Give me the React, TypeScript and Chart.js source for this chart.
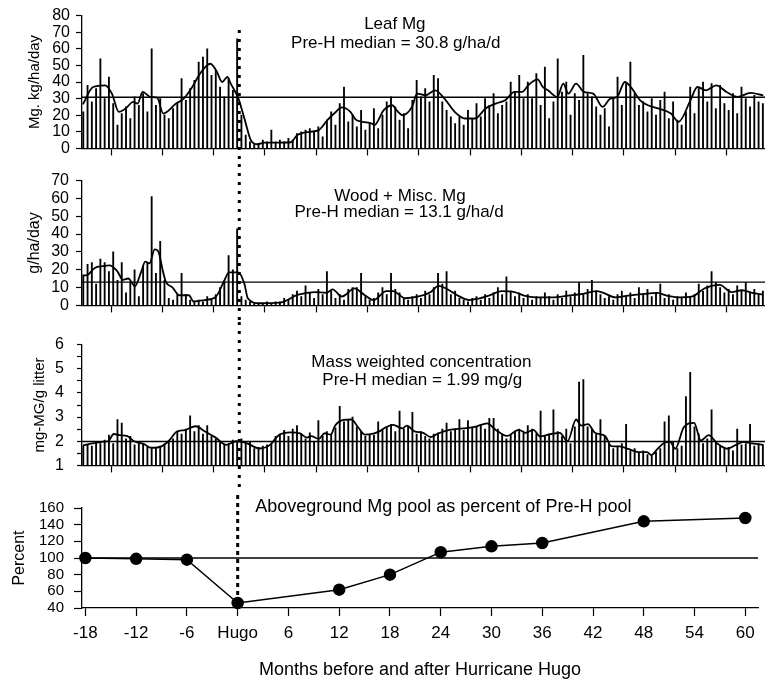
import React, { useEffect, useRef } from 'react';
import { Chart, registerables } from 'chart.js';

Chart.register(...registerables);

const FONT = "'Liberation Sans', Arial, Helvetica, sans-serif";
Chart.defaults.font.family = FONT;
Chart.defaults.color = '#000';

// ---------- shared time axis ----------
const monthTicks = [-18, -12, -6, 0, 6, 12, 18, 24, 30, 36, 42, 48, 54, 60];
const X_MIN = -18.4;
const X_MAX = 61.5;
const HUGO_MONTH = 0;
const FIRST_SAMPLE_MONTH = -18.25;
const SAMPLE_STEP = 0.5;

// ---------- Panel 1: Leaf Mg (g/ha/day) ----------
const LEAF_MEDIAN = 30.8;
const leafBars = [
  22, 38, 28, 36, 54, 30, 43, 27, 14, 21,
  25, 18, 31, 26, 33, 22, 60, 26, 30, 20,
  18, 24, 27, 42, 29, 36, 41, 52, 55, 60,
  44, 47, 37, 31, 42, 35, 66, 20, 8, 4,
  3, 3, 5, 4, 11, 4, 5, 4, 6, 5,
  9, 10, 11, 12, 10, 13, 7, 17, 22, 14,
  27, 37, 16, 20, 13, 23, 11, 15, 24, 12,
  20, 28, 31, 25, 17, 21, 12, 29, 41, 31,
  36, 28, 44, 42, 28, 23, 19, 15, 19, 14,
  23, 18, 27, 19, 30, 26, 33, 21, 26, 28,
  40, 34, 44, 30, 40, 30, 45, 26, 49, 18,
  28, 54, 34, 40, 20, 33, 29, 56, 33, 31,
  25, 20, 24, 13, 30, 43, 26, 39, 52, 33,
  26, 28, 22, 30, 20, 29, 34, 18, 28, 17,
  14, 22, 37, 21, 36, 40, 28, 39, 24, 38,
  27, 23, 33, 21, 37, 30, 25, 32, 28, 27,
];
const leafSmooth = [
  [-18.3, 26.5], [-17.1, 37], [-15.7, 38], [-14.9, 33], [-14.1, 22], [-13.3, 24],
  [-12.4, 28], [-11.9, 27], [-11.3, 34], [-10.4, 31], [-9.6, 30.5], [-8.9, 21],
  [-7.4, 27], [-6.5, 30], [-5.5, 37], [-4.6, 45], [-3.4, 51], [-2.7, 47],
  [-2.0, 40], [-1.4, 43], [-1.0, 39], [-0.1, 30], [0.6, 18], [1.35, 5],
  [2.1, 2.5], [3.0, 3.5], [4.5, 3.5], [6.0, 3.7], [6.8, 8], [8.2, 10], [9.3, 11],
  [10.3, 17], [11.1, 21], [12.0, 24.7], [13.0, 22], [13.6, 17.5], [14.4, 16],
  [15.5, 15], [15.8, 14], [16.9, 23], [17.9, 26], [18.4, 23], [19.1, 20],
  [20.2, 25], [20.8, 33], [21.8, 32], [22.9, 35], [24.0, 30], [25.2, 22],
  [26.4, 18], [27.6, 18], [28.8, 24], [30.0, 27], [31.1, 29], [32.2, 34],
  [33.1, 34], [33.8, 38], [34.9, 41.6], [35.5, 37], [36.1, 35], [37.2, 31],
  [37.9, 39], [38.5, 33], [39.4, 39], [40.3, 34], [41.4, 33], [42.5, 25],
  [43.4, 30], [44.2, 31], [45.1, 40], [45.8, 37], [46.9, 29], [47.8, 26],
  [49.1, 24], [50.5, 21], [51.4, 16], [52.7, 28], [53.6, 37], [54.6, 35],
  [55.8, 38], [57.0, 34], [58.3, 31], [59.8, 33.5], [61.3, 32],
];

// ---------- Panel 2: Wood + Misc. Mg (g/ha/day) ----------
const WOOD_MEDIAN = 13.1;
const woodBars = [
  17, 23, 24, 12, 26, 24, 19, 30, 14, 24,
  7, 13, 20, 5, 22, 24, 61, 18, 36, 14,
  4, 3, 6, 18, 6, 3, 2, 3, 2, 5,
  4, 6, 10, 14, 28, 20, 43, 5, 3, 2,
  1, 1, 1, 2, 1, 2, 2, 4, 3, 6,
  8, 5, 11, 7, 4, 9, 6, 19, 8, 4,
  6, 3, 9, 10, 10, 18, 5, 3, 4, 7,
  10, 6, 18, 9, 7, 4, 3, 5, 6, 4,
  8, 6, 10, 18, 12, 19, 6, 8, 4, 3,
  2, 4, 5, 3, 6, 4, 7, 10, 6, 16,
  8, 5, 7, 4, 6, 3, 5, 4, 7, 5,
  3, 6, 4, 8, 5, 7, 13, 6, 9, 14,
  8, 6, 4, 5, 3, 6, 8, 5, 7, 4,
  10, 6, 9, 5, 7, 12, 4, 6, 3, 5,
  4, 7, 5, 6, 12, 8, 11, 19, 13, 10,
  7, 9, 6, 11, 8, 13, 7, 9, 6, 8,
];
const woodSmooth = [
  [-18.3, 16.8], [-17.8, 17], [-16.9, 21], [-16.0, 22], [-15.2, 22.5], [-14.3, 19.4],
  [-13.6, 14.3], [-13.0, 15.1], [-12.2, 10.8], [-11.5, 18.5], [-11.0, 24.5],
  [-10.5, 23.6], [-9.9, 31.4], [-9.5, 30.5], [-8.9, 18.5], [-8.6, 13.4], [-7.8, 10],
  [-7.0, 5.7], [-5.9, 5.7], [-5.35, 2.2], [-4.05, 3], [-2.75, 4.8], [-1.8, 13.4],
  [-1.2, 18.5], [-0.1, 18.5], [0.6, 12], [1.0, 4], [2.3, 1.2], [4.7, 1.5], [6.9, 6],
  [8.8, 7.5], [10.2, 7], [10.9, 9], [12.0, 5], [13.5, 9.5], [14.6, 6], [15.7, 3],
  [17.2, 8], [18.0, 8], [19.4, 4], [21.0, 5], [22.4, 7.5], [23.3, 11], [24.2, 9.5],
  [25.4, 6], [26.9, 3], [28.1, 4], [29.2, 5.5], [30.7, 8], [32.2, 7.5], [33.3, 5.5],
  [34.7, 4.5], [36.6, 4.5], [38.5, 5.5], [40.2, 6.5], [41.8, 8], [42.6, 7], [44.0, 4.5],
  [45.5, 5.5], [47.4, 6.5], [48.9, 7], [50.0, 5.5], [51.5, 4.5], [53.0, 5], [54.4, 9.5],
  [56.2, 11.5], [57.6, 7.5], [58.8, 8.5], [60.0, 7], [61.3, 6],
];

// ---------- Panel 3: mass weighted concentration (mg/g) ----------
const CONC_MEDIAN = 1.99;
const concBars = [
  1.8, 1.85, 1.8, 1.95, 1.9, 2.05, 2.25, 1.9, 2.9, 2.75,
  2.1, 2.2, 1.85, 2.0, 1.9, 1.75, 1.7, 1.75, 1.8, 1.85,
  2.0, 2.1, 2.4, 2.3, 2.5, 3.05, 2.4, 2.65, 2.3, 2.65,
  2.2, 2.1, 1.95, 1.85, 1.9, 2.05, 1.95, 2.1, 1.9, 2.0,
  1.7, 1.75, 1.8, 1.85, 1.9, 2.2, 2.3, 2.45, 2.2, 2.5,
  2.65, 2.3, 2.1, 2.35, 2.0, 2.85, 2.2, 2.4, 2.3, 2.55,
  3.45, 2.8, 2.9, 3.0, 2.6, 2.4, 2.2, 2.3, 2.25, 2.8,
  2.5, 2.6, 2.7, 2.4, 3.25, 2.5, 2.6, 3.2, 2.3, 2.4,
  2.2, 2.1, 2.3, 2.35, 2.5, 2.75, 2.4, 2.5, 2.9, 2.45,
  2.85, 2.55, 2.6, 2.7, 2.5, 2.95, 2.95, 2.5, 2.3, 2.1,
  2.25, 2.4, 2.5, 2.35, 2.65, 2.5, 2.3, 3.25, 2.2, 2.3,
  3.3, 2.4, 2.2, 2.5, 1.9, 2.6, 4.45, 4.55, 2.6, 2.5,
  2.3, 2.9, 2.2, 1.9, 1.7, 1.8, 1.9, 2.7, 1.6, 1.7,
  1.5, 1.6, 1.45, 1.4, 1.55, 1.7, 2.8, 3.05, 2.0, 1.7,
  1.8, 3.85, 4.85, 2.6, 2.3, 1.9, 2.1, 3.3, 2.0, 1.8,
  1.7, 1.75, 1.6, 2.5, 1.85, 1.9, 2.7, 1.8, 1.9, 1.85,
];
const concSmooth = [
  [-18.3, 1.83], [-17.0, 1.92], [-15.9, 1.98], [-15.3, 2.01], [-14.7, 2.3], [-14.0, 2.25],
  [-13.1, 2.21], [-12.3, 2.0], [-11.2, 1.89], [-10.3, 1.73], [-9.1, 1.79], [-8.2, 2.03],
  [-7.3, 2.4], [-6.4, 2.46], [-5.1, 2.62], [-4.0, 2.4], [-2.8, 2.16], [-1.5, 1.85],
  [-0.4, 2.0], [0.7, 1.94], [2.4, 1.7], [3.6, 1.85], [4.6, 2.25], [6.0, 2.37],
  [7.1, 2.33], [7.9, 2.15], [8.4, 2.21], [9.3, 2.1], [10.0, 2.33], [10.7, 2.27],
  [11.2, 2.64], [12.2, 2.88], [13.1, 2.9], [13.9, 2.58], [14.7, 2.27], [15.8, 2.33],
  [16.6, 2.45], [16.9, 2.53], [18.0, 2.68], [19.1, 2.53], [19.6, 2.65], [20.5, 2.41],
  [21.5, 2.35], [22.4, 2.17], [23.2, 2.31], [24.6, 2.47], [26.2, 2.53], [27.8, 2.62],
  [29.0, 2.74], [30.0, 2.47], [31.3, 2.22], [32.7, 2.47], [33.5, 2.35], [34.4, 2.47],
  [35.2, 2.2], [36.4, 2.29], [37.5, 2.35], [38.4, 2.0], [39.4, 2.9], [40.0, 2.65],
  [40.8, 2.71], [41.6, 2.35], [42.8, 2.22], [43.5, 1.8], [44.5, 1.79], [45.6, 1.67],
  [46.7, 1.55], [47.7, 1.55], [48.2, 1.43], [48.9, 1.67], [49.6, 1.91], [50.4, 1.97],
  [51.0, 1.69], [52.0, 2.58], [53.2, 2.76], [54.0, 2.03], [54.9, 2.25], [55.9, 1.91],
  [57.1, 1.69], [58.1, 1.85], [59.0, 1.97], [60.0, 1.91], [61.3, 1.85],
];

// ---------- Panel 4: aboveground pool (% of pre-H) ----------
const POOL_REFERENCE = 100;
const poolMonths = [-18, -12, -6, 0, 12, 18, 24, 30, 36, 48, 60];
const poolPercent = [100, 99, 98, 46, 62, 80, 107, 114, 118, 144, 148];

const sampleMonths = leafBars.map((_, i) => FIRST_SAMPLE_MONTH + i * SAMPLE_STEP);

// ---------- helpers ----------
const Y_AXIS_WIDTH = 82;
const CANVAS_WIDTH = 765;

type TextItem = { text: string; x: number; y: number; size: number; align?: CanvasTextAlign };

function textPlugin(items: TextItem[]) {
  return {
    id: 'panelText',
    afterDraw(chart: any) {
      const { ctx } = chart;
      const xs = chart.scales.x;
      const ys = chart.scales.y;
      ctx.save();
      ctx.fillStyle = '#000';
      ctx.textBaseline = 'middle';
      for (const t of items) {
        ctx.font = `${t.size}px ${FONT}`;
        ctx.textAlign = t.align || 'center';
        ctx.fillText(t.text, xs.getPixelForValue(t.x), ys.getPixelForValue(t.y));
      }
      ctx.restore();
    },
  };
}

function hugoLinePlugin(fromPx: number, dash: number[], toValue?: number) {
  return {
    id: 'hugoLine',
    afterDatasetsDraw(chart: any) {
      const { ctx } = chart;
      const x = chart.scales.x.getPixelForValue(HUGO_MONTH);
      const y1 = toValue === undefined ? chart.height : chart.scales.y.getPixelForValue(toValue);
      ctx.save();
      ctx.beginPath();
      ctx.setLineDash(dash);
      ctx.lineWidth = 3;
      ctx.strokeStyle = '#000';
      ctx.moveTo(x, fromPx);
      ctx.lineTo(x, y1);
      ctx.stroke();
      ctx.restore();
    },
  };
}

function xScale(height: number, tickLength: number, withLabels: boolean) {
  return {
    type: 'linear',
    min: X_MIN,
    max: X_MAX,
    offset: false,
    afterBuildTicks: (s: any) => {
      s.ticks = monthTicks.map((v) => ({ value: v }));
    },
    afterFit: (s: any) => {
      s.height = height;
    },
    grid: {
      display: true,
      drawOnChartArea: false,
      drawTicks: true,
      tickLength,
      color: '#000',
      tickColor: '#000',
      tickWidth: 1.2,
    },
    border: { display: true, color: '#000', width: 1.3 },
    ticks: {
      display: withLabels,
      autoSkip: false,
      maxRotation: 0,
      padding: 7,
      color: '#000',
      font: { size: 17, family: FONT },
      callback: (v: any) => (v === HUGO_MONTH ? 'Hugo' : String(v)),
    },
    title: withLabels
      ? {
          display: true,
          text: 'Months before and after Hurricane Hugo',
          color: '#000',
          font: { size: 18, family: FONT },
          padding: { top: 0, bottom: 5 },
        }
      : { display: false },
  };
}

function yScale(o: {
  min: number; max: number; step: number; pad: number; tickLen: number; fontSize: number;
  title: string; titleSize: number; titlePad: number; integerOnly?: boolean;
}) {
  return {
    type: 'linear',
    min: o.min,
    max: o.max,
    afterFit: (s: any) => {
      s.width = Y_AXIS_WIDTH;
    },
    ticks: {
      stepSize: o.step,
      autoSkip: false,
      padding: o.pad,
      color: '#000',
      font: { size: o.fontSize, family: FONT },
      callback: (v: any) => (o.integerOnly && !Number.isInteger(v) ? '' : String(v)),
    },
    grid: {
      display: true,
      drawOnChartArea: false,
      drawTicks: true,
      tickLength: o.tickLen,
      color: '#000',
      tickWidth: 1.2,
    },
    border: { display: true, color: '#000', width: 1.3 },
    title: {
      display: true,
      text: o.title,
      color: '#000',
      font: { size: o.titleSize, family: FONT },
      padding: { top: o.titlePad, bottom: 0 },
    },
  };
}

function barSet(values: number[], base?: number) {
  const ds: any = {
    type: 'bar',
    data: sampleMonths.map((m, i) => ({ x: m, y: values[i] })),
    backgroundColor: '#000',
    borderWidth: 0,
    barThickness: 1.2,
    order: 3,
  };
  if (base !== undefined) ds.base = base;
  return ds;
}

function smoothSet(points: number[][]) {
  return {
    type: 'line',
    data: points.map(([x, y]) => ({ x, y })),
    borderColor: '#000',
    borderWidth: 1.8,
    pointRadius: 0,
    cubicInterpolationMode: 'monotone',
    order: 1,
  };
}

function medianSet(value: number) {
  return {
    type: 'line',
    data: [
      { x: X_MIN, y: value },
      { x: X_MAX, y: value },
    ],
    borderColor: '#000',
    borderWidth: 1.3,
    pointRadius: 0,
    order: 2,
  };
}

const baseOptions = (padTop: number) => ({
  responsive: false,
  maintainAspectRatio: false,
  animation: false,
  events: [],
  layout: { padding: { top: padTop, left: 0, right: 0, bottom: 0 } },
  plugins: { legend: { display: false }, tooltip: { enabled: false } },
});

function leafConfig(): any {
  return {
    type: 'bar',
    data: { datasets: [barSet(leafBars), smoothSet(leafSmooth), medianSet(LEAF_MEDIAN)] },
    options: {
      ...baseOptions(15),
      scales: {
        x: xScale(12, 7, false),
        y: yScale({ min: 0, max: 80, step: 10, pad: 6, tickLen: 6, fontSize: 16, title: 'Mg. kg/ha/day', titleSize: 15, titlePad: 26 }),
      },
    },
    plugins: [
      textPlugin([
        { text: 'Leaf Mg', x: 18.2, y: 74.7, size: 17 },
        { text: `Pre-H median = ${LEAF_MEDIAN} g/ha/d`, x: 18.3, y: 63.6, size: 17 },
      ]),
      hugoLinePlugin(30, [3, 6]),
    ],
  };
}

function woodConfig(): any {
  return {
    type: 'bar',
    data: { datasets: [barSet(woodBars), smoothSet(woodSmooth), medianSet(WOOD_MEDIAN)] },
    options: {
      ...baseOptions(11),
      scales: {
        x: xScale(11, 7, false),
        y: yScale({ min: 0, max: 70, step: 10, pad: 7, tickLen: 6, fontSize: 16, title: 'g/ha/day', titleSize: 16, titlePad: 25 }),
      },
    },
    plugins: [
      textPlugin([
        { text: 'Wood + Misc. Mg', x: 18.8, y: 61.2, size: 17 },
        { text: `Pre-H median = ${WOOD_MEDIAN} g/ha/d`, x: 18.7, y: 52, size: 17 },
      ]),
      hugoLinePlugin(0, [3, 6]),
    ],
  };
}

function concConfig(): any {
  return {
    type: 'bar',
    data: { datasets: [barSet(concBars, 1), smoothSet(concSmooth), medianSet(CONC_MEDIAN)] },
    options: {
      ...baseOptions(13),
      scales: {
        x: xScale(16, 7, false),
        y: yScale({ min: 1, max: 6, step: 0.5, pad: 13, tickLen: 5, fontSize: 16, title: 'mg-MG/g litter', titleSize: 15, titlePad: 31, integerOnly: true }),
      },
    },
    plugins: [
      textPlugin([
        { text: 'Mass weighted concentration', x: 21.3, y: 5.27, size: 17 },
        { text: `Pre-H median = ${CONC_MEDIAN} mg/g`, x: 21.4, y: 4.54, size: 17 },
      ]),
      hugoLinePlugin(0, [3, 6]),
    ],
  };
}

function poolConfig(): any {
  return {
    type: 'line',
    data: {
      datasets: [
        {
          type: 'line',
          data: poolMonths.map((m, i) => ({ x: m, y: poolPercent[i] })),
          borderColor: '#000',
          borderWidth: 1.5,
          pointRadius: 5.5,
          pointBackgroundColor: '#000',
          pointBorderColor: '#000',
          tension: 0,
          clip: false,
          order: 1,
        },
        medianSet(POOL_REFERENCE),
      ],
    },
    options: {
      ...baseOptions(20),
      scales: {
        x: xScale(78, 8, true),
        y: yScale({ min: 40, max: 160, step: 20, pad: 10, tickLen: 8, fontSize: 15, title: 'Percent', titleSize: 16, titlePad: 10 }),
      },
    },
    plugins: [
      textPlugin([
        { text: 'Aboveground Mg pool as percent of Pre-H pool', x: 2.07, y: 161, size: 18, align: 'left' },
      ]),
      hugoLinePlugin(7, [4, 4], poolPercent[poolMonths.indexOf(HUGO_MONTH)]),
    ],
  };
}

function Panel({ top, height, make }: { top: number; height: number; make: () => any }) {
  const ref = useRef<HTMLCanvasElement | null>(null);
  useEffect(() => {
    if (!ref.current) return;
    const chart = new Chart(ref.current, make());
    return () => chart.destroy();
  }, [make]);
  return (
    <canvas
      ref={ref}
      width={CANVAS_WIDTH}
      height={height}
      style={{ position: 'absolute', left: 0, top, width: CANVAS_WIDTH, height, display: 'block' }}
    />
  );
}

export default function App() {
  return (
    <div style={{ position: 'absolute', left: 0, top: 0, width: 765, height: 686, background: '#fff', overflow: 'hidden' }}>
      <Panel top={0} height={164} make={leafConfig} />
      <Panel top={164} height={158} make={woodConfig} />
      <Panel top={322} height={166} make={concConfig} />
      <Panel top={488} height={198} make={poolConfig} />
    </div>
  );
}
